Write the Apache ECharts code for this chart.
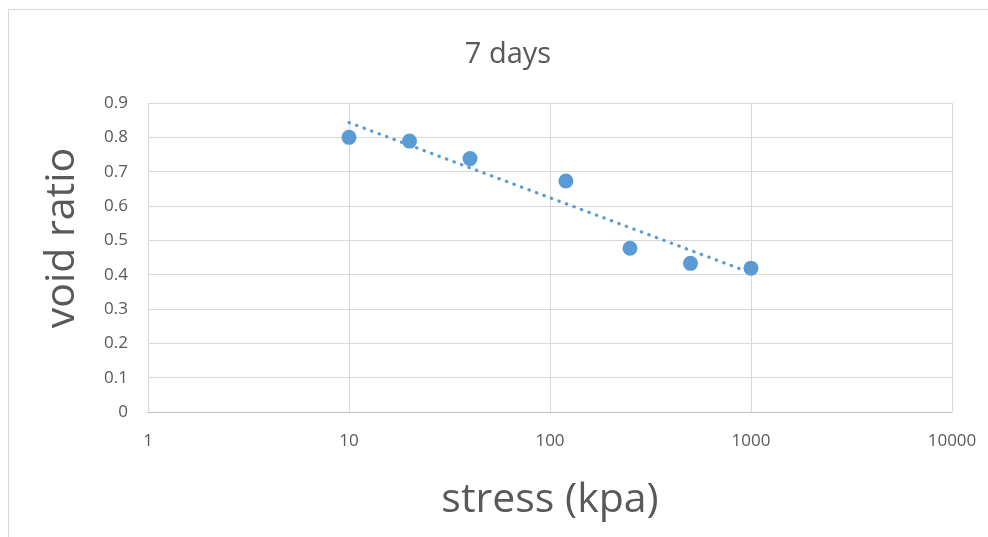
<!DOCTYPE html>
<html>
<head>
<meta charset="utf-8">
<script src="https://cdn.jsdelivr.net/npm/echarts@6/dist/echarts.min.js"></script>
<style>
html,body{margin:0;padding:0;background:#fff;}
#frame{position:absolute;left:8px;top:9px;width:1000px;height:560px;border:1px solid #d9d9d9;box-sizing:border-box;}
#chart{position:absolute;left:0;top:0;width:988px;height:537px;}
</style>
</head>
<body>
<div id="frame"></div>
<div id="chart"></div>
<script>
const titleText = '7 days';
const xAxisTitle = 'stress (kpa)';
const yAxisTitle = 'void ratio';
const stress = [10, 20, 40, 120, 250, 500, 1000];
const voidRatio = [0.80, 0.789, 0.738, 0.673, 0.477, 0.433, 0.419];
const trendStress = [10, 1000];
const trendVoid = [0.843, 0.405];

const FONT = "'Open Sans', sans-serif";
const TXT = '#595959';

const chart = echarts.init(document.getElementById('chart'), null, {renderer: 'canvas'});
chart.setOption({
  animation: false,
  backgroundColor: 'transparent',
  title: {
    text: titleText,
    left: 503, top: 35, textAlign: 'center',
    textStyle: {fontFamily: FONT, fontSize: 29, fontWeight: 'normal', color: TXT}
  },
  grid: {left: 148, right: 36, top: 103, bottom: 125, containLabel: false},
  xAxis: {
    type: 'log', logBase: 10, min: 1, max: 10000,
    name: xAxisTitle, nameLocation: 'middle', nameGap: 68,
    nameTextStyle: {fontFamily: FONT, fontSize: 41, color: TXT},
    axisLine: {show: true, lineStyle: {color: '#bfbfbf', width: 1}},
    axisTick: {show: false},
    minorTick: {show: false},
    splitLine: {show: true, lineStyle: {color: '#d9d9d9', width: 1}},
    axisLabel: {fontFamily: FONT, fontSize: 17, color: TXT, margin: 21,
      formatter: v => String(Math.round(v))}
  },
  yAxis: {
    type: 'value', min: 0, max: 0.9, interval: 0.1,
    axisLine: {show: false},
    axisTick: {show: false},
    splitLine: {show: true, lineStyle: {color: '#d9d9d9', width: 1}},
    axisLabel: {fontFamily: FONT, fontSize: 17, color: TXT, margin: 20,
      formatter: v => String(Math.round(v * 10) / 10)}
  },
  graphic: [{
    type: 'text', x: 62, y: 238, rotation: Math.PI / 2,
    style: {text: yAxisTitle, fontFamily: FONT, fontSize: 41, fill: TXT,
      align: 'center', verticalAlign: 'middle'}
  }],
  series: [{
    type: 'line',
    data: trendStress.map((x, i) => [x, trendVoid[i]]),
    showSymbol: false, symbol: 'none',
    lineStyle: {color: '#5b9bd5', width: 3.2, type: [0.5, 7.5], cap: 'round', opacity: 1},
    z: 2
  }, {
    type: 'scatter',
    data: stress.map((x, i) => [x, voidRatio[i]]),
    symbol: 'circle', symbolSize: 15,
    itemStyle: {color: '#5b9bd5', opacity: 1},
    z: 3
  }]
});
</script>
</body>
</html>
